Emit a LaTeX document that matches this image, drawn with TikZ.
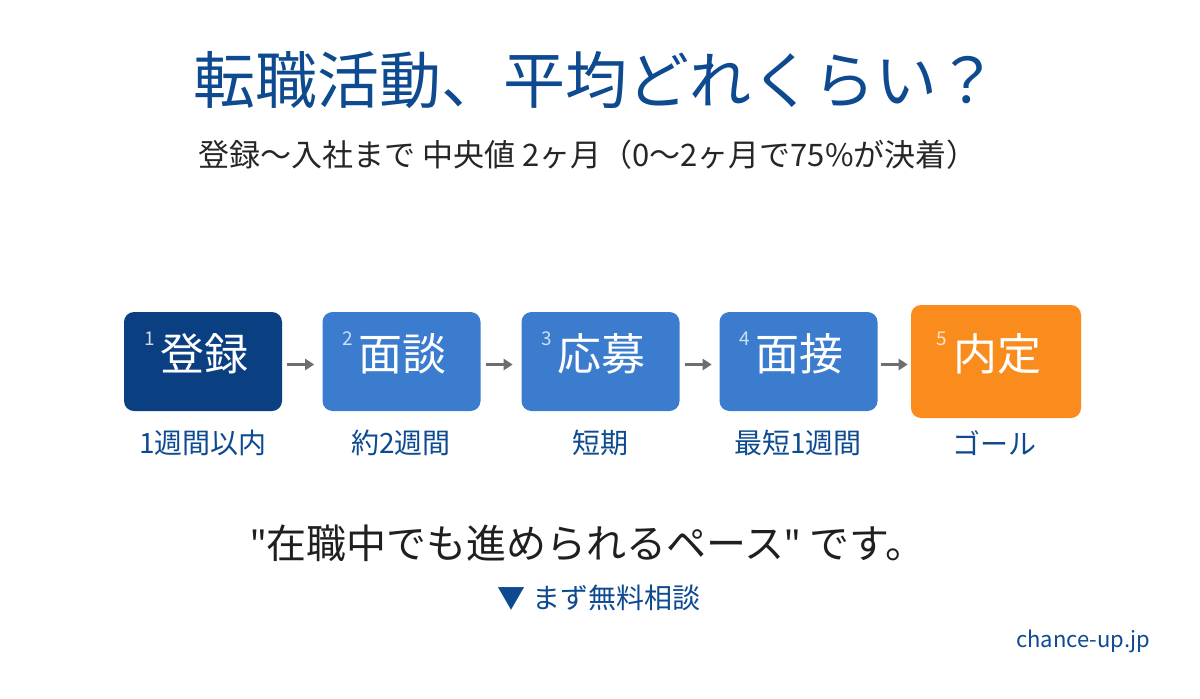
\documentclass[tikz,border=0pt]{standalone}
\usepackage{fontspec}
\setmainfont{Noto Sans CJK JP}
\newfontfamily\qfont{Noto Sans}
\usetikzlibrary{arrows.meta}
\definecolor{navy}{HTML}{0A3F82}
\definecolor{tblue}{HTML}{0D4A8F}
\definecolor{mblue}{HTML}{3B7CCE}
\definecolor{orng}{HTML}{FA8C1E}
\definecolor{agray}{HTML}{6E6E6E}
\tikzset{
  stepbox/.style={rounded corners=10pt, minimum width=158pt, minimum height=99pt, inner sep=0pt},
  steptext/.style={text=white, font=\fontsize{44}{48}\selectfont},
  stepnum/.style={font=\fontsize{19}{20}\selectfont},
  lab/.style={text=tblue, font=\fontsize{28}{32}\selectfont},
  arr/.style={agray, line width=3pt, -{Triangle[length=9pt,width=11pt]}}
}
\begin{document}
\begin{tikzpicture}[x=1pt,y=-1pt]
\useasboundingbox[fill=white] (0,0) rectangle (1200,699);
\node[text=tblue, font=\fontsize{62}{66}\selectfont] (title) at (596,80) {転職活動、平均どれくらい？};
\node[text=black!85, font=\fontsize{31}{36}\selectfont] (sub) at (588,155) {登録～入社まで 中央値 2ヶ月（0～2ヶ月で75\%が決着）};

\node[stepbox, fill=navy] (b1) at (203,361.5) {};
\node[stepbox, fill=mblue] (b2) at (401.5,361.5) {};
\node[stepbox, fill=mblue] (b3) at (600.5,361.5) {};
\node[stepbox, fill=mblue] (b4) at (798.5,361.5) {};
\node[stepbox, fill=orng, minimum width=170pt, minimum height=113pt] (b5) at (996,361.5) {};

\node[steptext] (t1) at (204,354) {登録};
\node[steptext] (t2) at (402,354) {面談};
\node[steptext] (t3) at (601,354) {応募};
\node[steptext] (t4) at (799,354) {面接};
\node[steptext] (t5) at (997,354) {内定};
\node[stepnum, text=white!80!navy] (n1) at (150,339) {1};
\node[stepnum, text=white!75!mblue] (n2) at (348,339) {2};
\node[stepnum, text=white!75!mblue] (n3) at (547,339) {3};
\node[stepnum, text=white!75!mblue] (n4) at (745,339) {4};
\node[stepnum, text=white!75!orng] (n5) at (942,339) {5};

\draw[arr] ([xshift=5pt,yshift=-3pt]b1.east) -- ++(27,0);
\draw[arr] ([xshift=5pt,yshift=-3pt]b2.east) -- ++(27,0);
\draw[arr] ([xshift=5pt,yshift=-3pt]b3.east) -- ++(27,0);
\draw[arr] ([xshift=3pt,yshift=-3pt]b4.east) -- ++(27,0);

\node[lab] (l1) at (203,443) {1週間以内};
\node[lab] (l2) at (401,443) {約2週間};
\node[lab] (l3) at (600,443) {短期};
\node[lab] (l4) at (798,443) {最短1週間};
\node[lab] (l5) at (994,443) {ゴール};

\node[text=black!88, font=\fontsize{40}{44}\selectfont] (slogan) at (588,543) {{\qfont\symbol{34}}在職中でも進められるペース{\qfont\symbol{34}} です。};
\node[text=tblue, font=\fontsize{28}{32}\selectfont] (cta) at (599,598) {▼ まず無料相談};
\node[text=tblue, font=\fontsize{22}{26}\selectfont, anchor=east] (url) at (1154,641) {chance-up.jp};
\end{tikzpicture}
\end{document}
